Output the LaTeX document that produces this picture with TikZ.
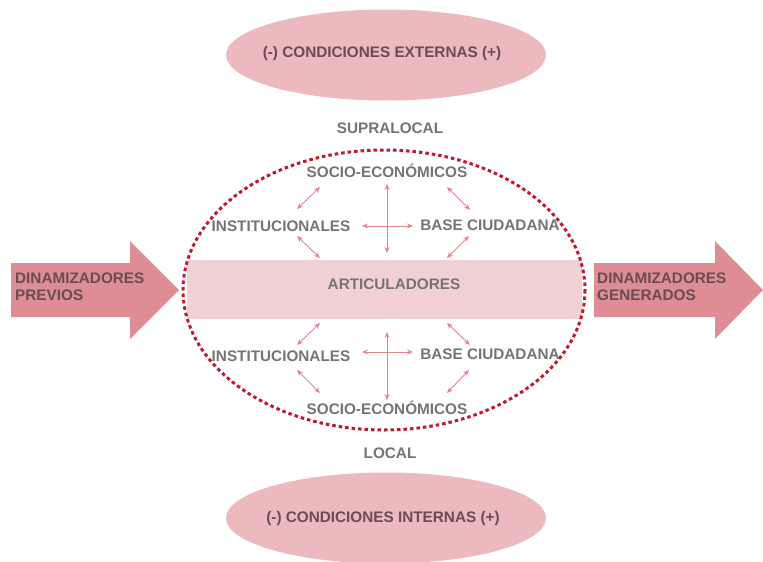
\documentclass[tikz,border=0pt]{standalone}
\usepackage{fontspec}
\setmainfont{Liberation Sans}
\usetikzlibrary{shapes.geometric,shapes.arrows,arrows.meta}
\definecolor{txtgray}{HTML}{747474}
\definecolor{txtdark}{HTML}{6A4C52}
\definecolor{arrowfill}{HTML}{DE8D94}
\definecolor{ellfill}{HTML}{EBB9BE}
\definecolor{bandfill}{HTML}{F2D1D5}
\definecolor{dashred}{HTML}{C0182E}
\definecolor{linkred}{HTML}{E0868E}
\tikzset{
  lbl/.style={font=\fontsize{15.3}{17}\selectfont\bfseries, text=txtgray, inner sep=0pt},
  dlbl/.style={font=\fontsize{15.3}{17}\selectfont\bfseries, text=txtdark, inner sep=0pt, align=left},
  condshape/.style={fill=ellfill},
  cond/.style={inner sep=0pt, font=\fontsize{15.3}{17}\selectfont\bfseries, text=txtdark},
  link/.style={draw=linkred, line width=0.9pt, {Stealth[length=6pt,width=5pt]}-{Stealth[length=6pt,width=5pt]}},
  bigarrow/.style={fill=arrowfill}
}
\begin{document}
\begin{tikzpicture}[x=1pt,y=-1pt]
\useasboundingbox (0,0) rectangle (763,562);
% top and bottom ellipses
\fill[condshape] (386,55) ellipse [x radius=160, y radius=45.5];
\fill[condshape] (386,518) ellipse [x radius=160, y radius=45.5];
\node[cond] (ext) at (382,54) {(-) CONDICIONES EXTERNAS (+)};
\node[cond] (int) at (383,519) {(-) CONDICIONES INTERNAS (+)};
\node[lbl] (supra) at (390,128) {SUPRALOCAL};
\node[lbl] (local) at (390,453) {LOCAL};
% band
\fill[bandfill] (187,260) rectangle (582,319);
\node[lbl] (art) at (394,284) {ARTICULADORES};
% dashed ellipse
\draw[dashred, line width=3pt, dash pattern=on 3.5pt off 3pt] (384,290) ellipse [x radius=201, y radius=140];
% big arrows
\fill[bigarrow] (11,263) -- (130,263) -- (130,241) -- (179,290) -- (130,339) -- (130,317) -- (11,317) -- cycle;
\fill[bigarrow] (594,263) -- (715,263) -- (715,241) -- (763,290) -- (715,339) -- (715,317) -- (594,317) -- cycle;
\node[dlbl, anchor=west] (prev) at (15,286.5) {DINAMIZADORES\\PREVIOS};
\node[dlbl, anchor=west] (gen) at (597,286.5) {DINAMIZADORES\\GENERADOS};
% upper group
\node[lbl] (se1) at (387,171) {SOCIO-ECONÓMICOS};
\node[lbl] (in1) at (281,226) {INSTITUCIONALES};
\node[lbl] (bc1) at (490,225) {BASE CIUDADANA};
\coordinate (u1a) at (320,187); \coordinate (u1b) at (297,209);
\coordinate (u2a) at (447,187); \coordinate (u2b) at (470,210);
\coordinate (u3a) at (297,236); \coordinate (u3b) at (320,258);
\coordinate (u4a) at (469,236); \coordinate (u4b) at (447,258);
\coordinate (uva) at (387,184); \coordinate (uvb) at (387,253);
\coordinate (uha) at (362,226); \coordinate (uhb) at (413,226);
\draw[link] (u1a) -- (u1b);
\draw[link] (u2a) -- (u2b);
\draw[link] (u3a) -- (u3b);
\draw[link] (u4a) -- (u4b);
\draw[link] (uva) -- (uvb);
\draw[link] (uha) -- (uhb);
% lower group
\node[lbl] (in2) at (281,356) {INSTITUCIONALES};
\node[lbl] (bc2) at (490,354) {BASE CIUDADANA};
\node[lbl] (se2) at (387,408) {SOCIO-ECONÓMICOS};
\coordinate (l1a) at (320,323); \coordinate (l1b) at (297,345);
\coordinate (l2a) at (447,323); \coordinate (l2b) at (470,345);
\coordinate (l3a) at (297,370); \coordinate (l3b) at (320,393);
\coordinate (l4a) at (469,370); \coordinate (l4b) at (447,393);
\coordinate (lva) at (387,332); \coordinate (lvb) at (387,400);
\coordinate (lha) at (362,352); \coordinate (lhb) at (413,352);
\draw[link] (l1a) -- (l1b);
\draw[link] (l2a) -- (l2b);
\draw[link] (l3a) -- (l3b);
\draw[link] (l4a) -- (l4b);
\draw[link] (lva) -- (lvb);
\draw[link] (lha) -- (lhb);
\end{tikzpicture}
\end{document}
